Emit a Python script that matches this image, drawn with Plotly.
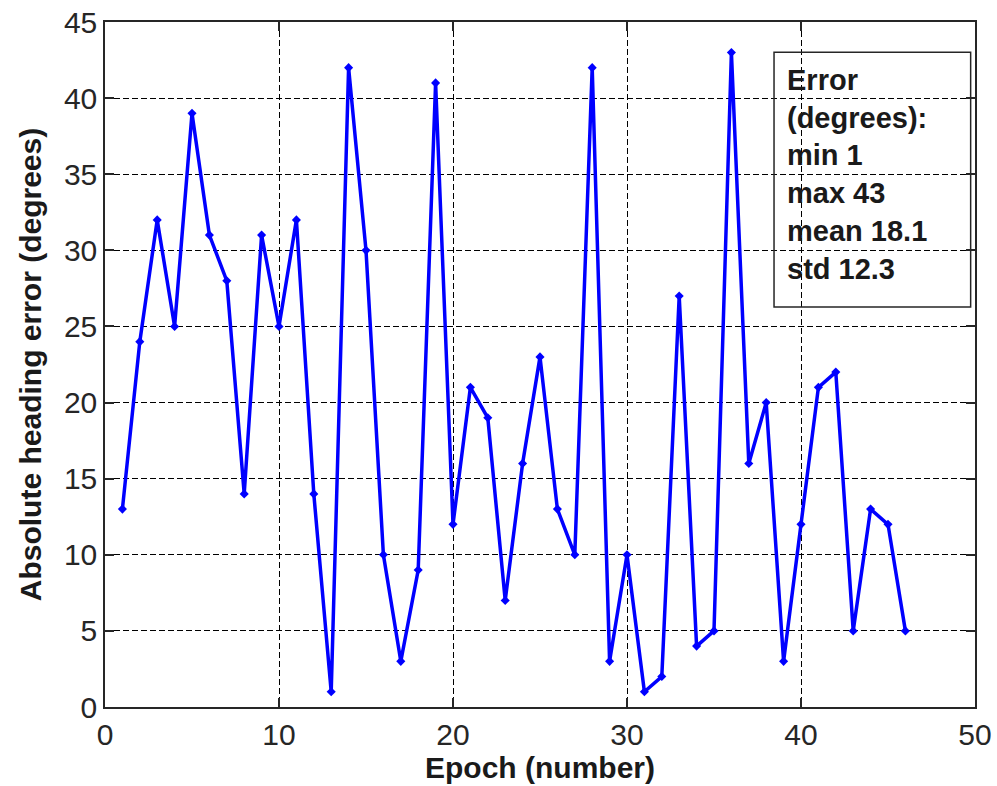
import plotly.graph_objects as go

epochs = list(range(1, 47))
errors = [13, 24, 32, 25, 39, 31, 28, 14, 31, 25,
          32, 14, 1, 42, 30, 10, 3, 9, 41, 12,
          21, 19, 7, 16, 23, 13, 10, 42, 3, 10,
          1, 2, 27, 4, 5, 43, 16, 20, 3, 12,
          21, 22, 5, 13, 12, 5]
x_ticks = [0, 10, 20, 30, 40, 50]
y_ticks = [0, 5, 10, 15, 20, 25, 30, 35, 40, 45]
stats_lines = ["Error", "(degrees):", "min 1", "max 43", "mean 18.1", "std 12.3"]

fig = go.Figure()
fig.add_trace(go.Scatter(
    x=epochs, y=errors, mode="lines+markers",
    line=dict(color="#0000FF", width=3.5),
    marker=dict(symbol="diamond", size=7, color="#0000FF"),
    showlegend=False,
))

axis_common = dict(
    showline=True, linecolor="#262626", linewidth=1.5, mirror="ticks",
    ticks="inside", ticklen=9, tickcolor="#262626", tickwidth=1.5,
    showgrid=True, gridcolor="black", gridwidth=1, griddash="6px,3px",
    zeroline=False, automargin=False,
    tickfont=dict(family="Liberation Sans, Arial", size=30, color="#262626"),
)

fig.update_xaxes(range=[0, 50], tickvals=x_ticks, **axis_common,
                 title=dict(text="<b>Epoch (number)</b>", standoff=4,
                            font=dict(family="Liberation Sans, Arial", size=30, color="#1a1a1a")))
fig.update_yaxes(range=[0, 45], tickvals=y_ticks, **axis_common,
                 title=dict(text="<b>Absolute heading error (degrees)</b>", standoff=13,
                            font=dict(family="Liberation Sans, Arial", size=30, color="#1a1a1a")))

fig.add_shape(type="rect", xref="paper", yref="paper",
              x0=0.769, x1=0.995, y0=0.584, y1=0.956,
              line=dict(color="#262626", width=1.5), fillcolor="rgba(0,0,0,0)", layer="above")
fig.add_annotation(xref="paper", yref="paper", x=0.782, y=0.942,
                   xanchor="left", yanchor="top", align="left", showarrow=False,
                   text="<br>".join("<b>%s</b>" % s for s in stats_lines),
                   font=dict(family="Liberation Sans, Arial", size=29, color="#1a1a1a"))

fig.update_layout(
    width=997, height=786,
    margin=dict(l=105, r=22, t=22, b=79),
    paper_bgcolor="white", plot_bgcolor="white",
)

fig.write_html("out.html", config={"displayModeBar": False},
               post_script="document.body.style.margin='0px';")
